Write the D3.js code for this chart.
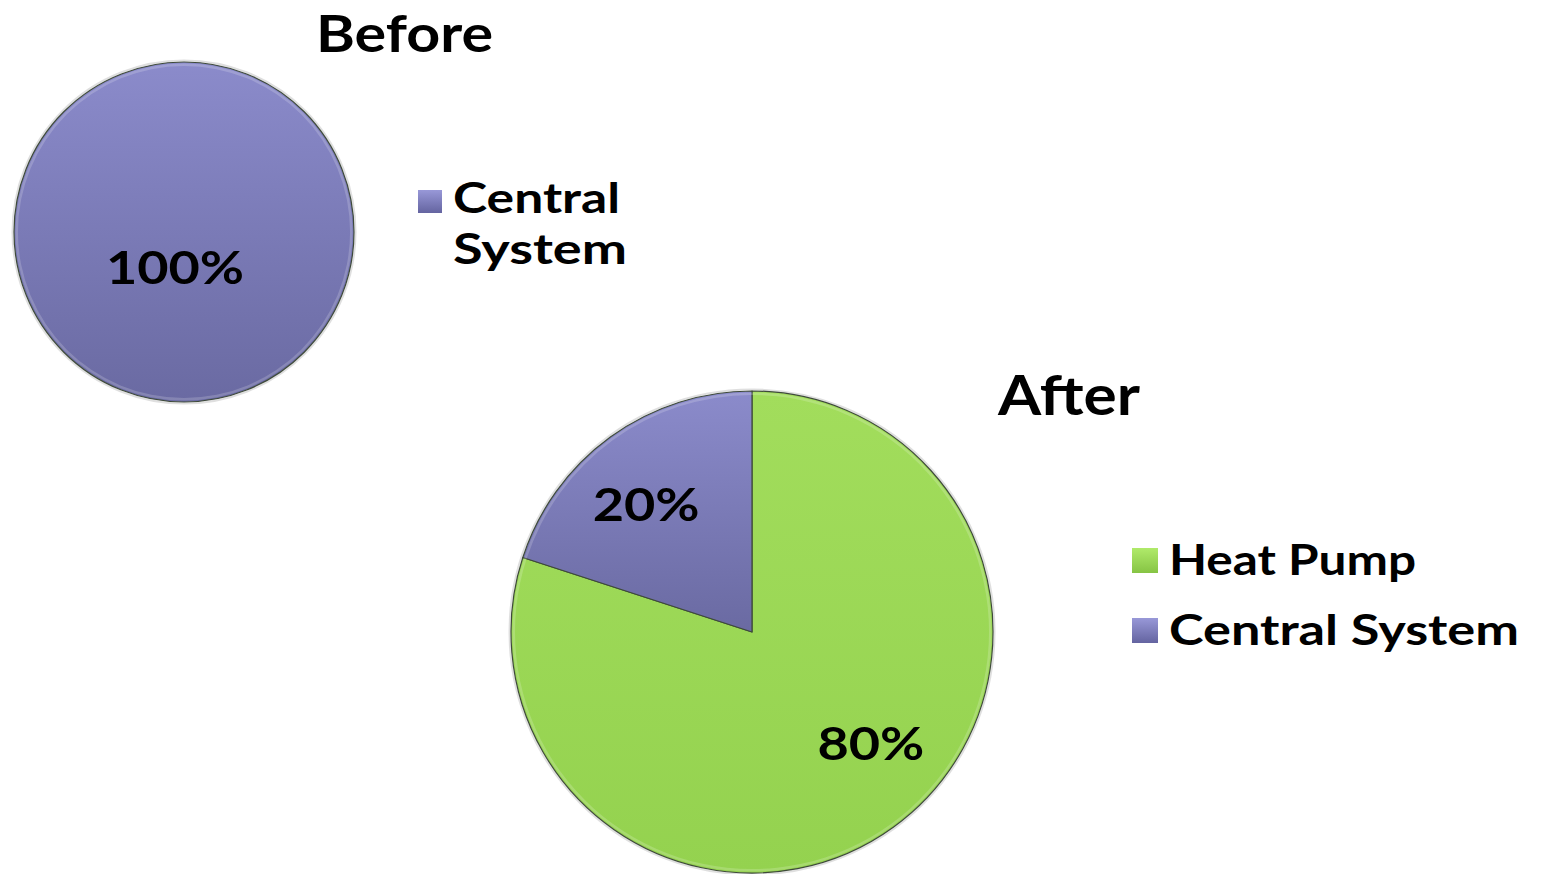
<!DOCTYPE html>
<html>
<head>
<meta charset="utf-8">
<script src="https://cdn.jsdelivr.net/npm/d3@7"></script>
<style>
  html, body { margin: 0; padding: 0; background: #fff; }
  svg { display: block; }
  text { font-family: Lato, "Open Sans", sans-serif; font-weight: 700; fill: #000; }
</style>
</head>
<body>
<svg id="chart" width="1543" height="874"></svg>
<script>
// ---- Data ----
const categories = ["Heat Pump", "Central System"];
const beforeValues = [0, 100];
const afterValues = [80, 20];
const chartTitles = ["Before", "After"];
const beforeLegend = ["Central System"];
const afterLegend = ["Heat Pump", "Central System"];

const svg = d3.select("#chart");
const defs = svg.append("defs");

function vGrad(id, top, bottom) {
  const g = defs.append("linearGradient").attr("id", id)
    .attr("x1", 0).attr("y1", 0).attr("x2", 0).attr("y2", 1);
  g.append("stop").attr("offset", "0%").attr("stop-color", top);
  g.append("stop").attr("offset", "100%").attr("stop-color", bottom);
}
vGrad("gPurple", "#8b8bcb", "#6a6aa2");
vGrad("gGreen", "#a2dd5c", "#94d24f");
vGrad("gPurpleSw", "#9898d8", "#6464a0");
vGrad("gGreenSw", "#b0ea6a", "#86c444");

const fillScale = d3.scaleOrdinal().domain(categories).range(["url(#gGreen)", "url(#gPurple)"]);
const swatchScale = d3.scaleOrdinal().domain(categories).range(["url(#gGreenSw)", "url(#gPurpleSw)"]);

const pie = d3.pie().sort(null).value(d => d.value);

function drawPie(values, cx, cy, r, labelR, nudges) {
  const data = categories.map((c, i) => ({ cat: c, value: values[i] }));
  const arcs = pie(data).filter(a => a.data.value > 0);
  const g = svg.append("g").attr("transform", `translate(${cx},${cy})`);
  const arc = d3.arc().innerRadius(0).outerRadius(r);
  const labelArc = d3.arc().innerRadius(labelR).outerRadius(labelR);
  g.append("circle").attr("r", r + 1.5).attr("fill", "none")
    .attr("stroke", "#c9c9c9").attr("stroke-width", 2).attr("opacity", 0.6);
  g.selectAll("path.slice").data(arcs).join("path")
    .attr("class", "slice")
    .attr("d", arc)
    .attr("fill", d => fillScale(d.data.cat))
    .attr("stroke", "#3e4a3a").attr("stroke-width", 1.2).attr("stroke-linejoin", "round");
  // inner highlight rim (soft bevel)
  g.selectAll("path.rim").data(arcs).join("path")
    .attr("class", "rim")
    .attr("d", d3.arc().innerRadius(r - 4).outerRadius(r - 1.5))
    .attr("fill", "#ffffff").attr("opacity", 0.18);
  const total = d3.sum(values);
  g.selectAll("text.lbl").data(arcs).join("text")
    .attr("class", "lbl")
    .attr("transform", d => {
      const c = labelArc.centroid(d);
      const n = nudges[d.data.cat] || [0, 0];
      return `translate(${c[0] + n[0]},${c[1] + n[1]}) scale(1.2,1)`;
    })
    .attr("text-anchor", "middle")
    .attr("dy", "0.36em")
    .style("font-size", "45px")
    .text(d => Math.round(d.data.value / total * 100) + "%");
}

drawPie(beforeValues, 184, 232, 170, 36, { "Central System": [-9, 0] });
drawPie(afterValues, 752, 632, 241, 170, { "Central System": [-6, 10], "Heat Pump": [19, -26] });

// titles
svg.append("text").attr("x", 316).attr("y", 52).style("font-size", "52px")
  .attr("textLength", 177).attr("lengthAdjust", "spacingAndGlyphs").text(chartTitles[0]);
svg.append("text").attr("x", 998).attr("y", 415).style("font-size", "55px")
  .attr("textLength", 142).attr("lengthAdjust", "spacingAndGlyphs").text(chartTitles[1]);

// Before legend (wrapped)
const lb = svg.append("g");
lb.append("rect").attr("x", 418).attr("y", 190).attr("width", 24).attr("height", 23)
  .attr("fill", swatchScale(beforeLegend[0]));
const words = beforeLegend[0].split(" ");
lb.append("text").attr("x", 453).attr("y", 213).style("font-size", "42px")
  .attr("textLength", 167).attr("lengthAdjust", "spacingAndGlyphs").text(words[0]);
lb.append("text").attr("x", 453).attr("y", 264).style("font-size", "42px")
  .attr("textLength", 174).attr("lengthAdjust", "spacingAndGlyphs").text(words[1]);

// After legend
const legY = d3.scalePoint().domain(afterLegend).range([575, 645]);
const legW = { "Heat Pump": 247, "Central System": 350 };
const la = svg.append("g").selectAll("g").data(afterLegend).join("g");
la.append("rect").attr("x", 1132).attr("y", d => legY(d) - 27).attr("width", 26).attr("height", 25)
  .attr("fill", d => swatchScale(d));
la.append("text").attr("x", 1169).attr("y", d => legY(d)).style("font-size", "42px")
  .attr("textLength", d => legW[d]).attr("lengthAdjust", "spacingAndGlyphs").text(d => d);
</script>
</body>
</html>
